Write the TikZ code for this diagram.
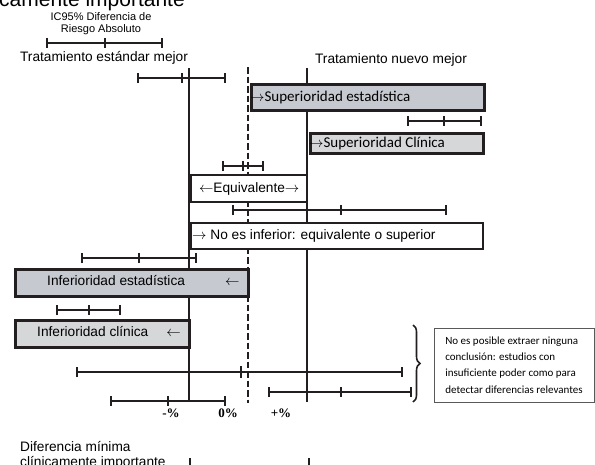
\documentclass[tikz,border=0pt]{standalone}
\usepackage{fontspec}
\setmainfont{Liberation Sans}
\newfontfamily\calfont{Carlito}
\newfontfamily\timesfont{Liberation Serif}
\usepackage{tikz}
\usetikzlibrary{arrows.meta}
\usetikzlibrary{decorations.pathreplacing}
\definecolor{inkdark}{HTML}{231F20}
\definecolor{boxblue}{HTML}{C6C9D0}
\definecolor{boxgray}{HTML}{D6D7D9}

\begin{document}
\begin{tikzpicture}[x=1pt, y=-1pt,
  cibar/.style={line width=2.2pt, inkdark, {Bar[width=10pt]}-{Bar[width=10pt]}},
  citick/.style={line width=2.8pt, inkdark},
  axisline/.style={line width=2.1pt, inkdark},
  graybox/.style={rectangle, draw=inkdark, line width=3.2pt, anchor=north west, inner sep=0pt},
  whitebox/.style={rectangle, draw=inkdark, fill=white, line width=2.4pt, anchor=north west, inner sep=0pt},
  boxtext/.style={rectangle, draw=none, inner sep=0pt, font=\fontsize{13.7}{16}\selectfont},
  caltext/.style={rectangle, draw=none, inner sep=0pt, font=\calfont\fontsize{15}{18}\selectfont},
  pcttext/.style={rectangle, draw=none, inner sep=0pt, font=\timesfont\bfseries\fontsize{13}{15}\selectfont}]
\coordinate (PageTop) at (0,0);
\coordinate (PageBottom) at (595,464);
\useasboundingbox (PageTop) rectangle (PageBottom);
\clip (PageTop) rectangle (PageBottom);

%%Reference lines
\coordinate (MinusTop) at (189,68);
\coordinate (MinusBottom) at (189,402);
\coordinate (ZeroTop) at (248,67);
\coordinate (ZeroBottom) at (248,403);
\coordinate (PlusTop) at (307,68);
\coordinate (PlusBottom) at (307,402);

\draw[axisline] (MinusTop) -- (MinusBottom);
\draw[axisline] (PlusTop) -- (PlusBottom);
\draw[line width=2.7pt, inkdark, dash pattern=on 6.5pt off 3pt] (ZeroTop) -- (ZeroBottom);

%%Title (cut at the top)
\node[rectangle, draw=none, inner sep=0pt, anchor=base east, font=\fontsize{21}{24}\selectfont] (title) at (185,6) {clínicamente importante};

%%Legend
\node[boxtext, align=center, font=\fontsize{11}{12}\selectfont] (legend) at (101,24) {IC95\% Diferencia de\\Riesgo Absoluto};
\draw[cibar] (46,43) -- (163,43);
\draw[citick] (105,38) -- (105,48);

\node[boxtext] (estandar) at (104,58) {Tratamiento estándar mejor};
\node[boxtext] (nuevo) at (391,60) {Tratamiento nuevo mejor};

%%Boxes
\node[graybox, fill=boxblue, minimum width=233pt, minimum height=26pt] (supest) at (249.5,82.5) {};
\node[graybox, fill=boxgray, minimum width=173pt, minimum height=20pt] (supcli) at (308.5,131.5) {};
\node[whitebox, minimum width=116pt, minimum height=27pt] (equiv) at (190,174) {};
\node[whitebox, minimum width=292pt, minimum height=26pt] (noinf) at (190,222) {};
\node[graybox, fill=boxblue, minimum width=233pt, minimum height=27pt] (infest) at (13.5,267.5) {};
\node[graybox, fill=boxgray, minimum width=174pt, minimum height=27pt] (infcli) at (13.5,318.5) {};

\node[caltext, anchor=west] (supesttext) at ([xshift=0.5pt]supest.west) {$\rightarrow$Superioridad estadística};
\node[caltext, anchor=west] (suptclitext) at ([xshift=0.5pt]supcli.west) {$\rightarrow$Superioridad Clínica};
\node[boxtext] (equivtext) at (equiv.center) {$\leftarrow$Equivalente$\rightarrow$};
\node[boxtext, anchor=west] (noinftext) at ([xshift=2pt]noinf.west) {$\rightarrow$ No es inferior: equivalente o superior};
\node[boxtext, anchor=west] (infesttext) at (47,281) {Inferioridad estadística\hspace{40pt}$\leftarrow$};
\node[boxtext, anchor=west] (inferclitext) at (37,332) {Inferioridad clínica\hspace{18pt}$\leftarrow$};

%%Confidence intervals
\draw[cibar] (137,78) -- (226,78);
\draw[citick] (182,73) -- (182,83);
\draw[cibar] (407,121) -- (482,121);
\draw[citick] (444,116) -- (444,126);
\draw[cibar] (222,166) -- (264,166);
\draw[citick] (243,161) -- (243,171);
\draw[cibar] (232,210) -- (447,210);
\draw[citick] (341,205) -- (341,215);
\draw[cibar] (81,258) -- (197,258);
\draw[citick] (139,253) -- (139,263);
\draw[cibar] (56,310) -- (121,310);
\draw[citick] (89,305) -- (89,315);
\draw[cibar] (76,372) -- (403,372);
\draw[citick] (241,366) -- (241,378);
\draw[cibar] (268,392) -- (412,392);
\draw[citick] (341,387) -- (341,397);
\draw[cibar] (110,401) -- (226,401);
\draw[citick] (168,396) -- (168,406);

%%Axis labels
\node[pcttext] (minuspct) at (171,413) {-\%};
\node[pcttext] (zeropct) at (228,413) {0\%};
\node[pcttext] (pluspct) at (281,413) {+\%};

%%No conclusion
\coordinate (BraceTop) at (413,325);
\coordinate (BraceBottom) at (413,402);
\draw[line width=1.6pt, inkdark, decorate, decoration={brace, amplitude=7pt}] (BraceTop) -- (BraceBottom);
\node[rectangle, draw=black!65, line width=0.9pt, anchor=west, inner xsep=10.5pt, minimum width=160pt, minimum height=74pt, align=left, font=\calfont\fontsize{11}{16.4}\selectfont] (noconcl) at (433.5,365) {No es posible extraer ninguna\\conclusión: estudios con\\insuficiente poder como para\\detectar diferencias relevantes};

%%Minimal difference
\node[boxtext, anchor=base west] (difmin) at (20,451) {Diferencia mínima};
\node[boxtext, anchor=base west] (difmintwo) at (20,466) {clínicamente importante};
\coordinate (TickA) at (190,458);
\coordinate (TickB) at (309,458);
\draw[axisline] (TickA) -- ++(0,8);
\draw[axisline] (TickB) -- ++(0,8);

\end{tikzpicture}
\end{document}
